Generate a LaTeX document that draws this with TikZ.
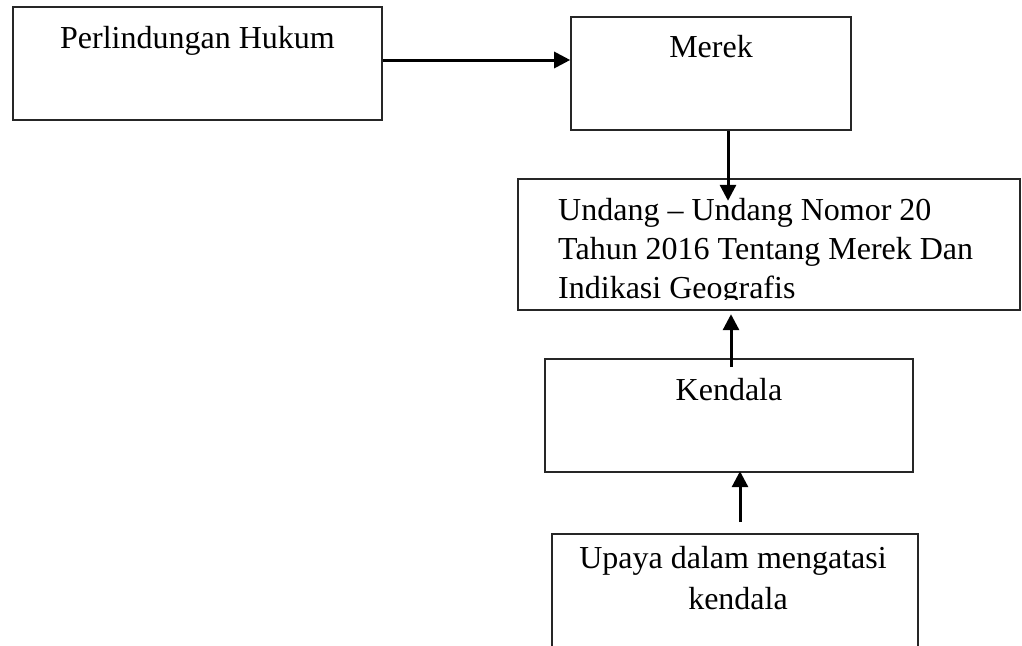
\documentclass[tikz,border=0pt]{standalone}
\usepackage{fontspec}
\setmainfont{Liberation Serif}
\usetikzlibrary{arrows.meta}

\begin{document}
\begin{tikzpicture}[x=1pt,y=-1pt,
  every node/.style={inner sep=0pt,font=\fontsize{32}{38}\selectfont},
  kotak/.style={draw=black!85,line width=1.6pt},
  panah/.style={line width=3pt,-{Triangle[length=16pt,width=16pt]}}]
  \useasboundingbox (0,0) rectangle (1022,645);
  % kotak
  \node[kotak,minimum width=369pt,minimum height=113pt] (hukum) at (197.5,63.5) {};
  \node[kotak,minimum width=280pt,minimum height=113pt] (merek) at (711,73.5) {};
  \node[kotak,minimum width=502pt,minimum height=131pt] (uu) at (769,244.5) {};
  \node[kotak,minimum width=368pt,minimum height=113pt] (kendala) at (729,415.5) {};
  \node[kotak,minimum width=366pt,minimum height=126pt] (upaya) at (735,597) {};
  % teks
  \node[anchor=base] (hukum-t) at (197.5,48) {Perlindungan Hukum};
  \node[anchor=base] (merek-t) at (711,57) {Merek};
  \begin{scope}
    \clip (518,179) rectangle (1020,299);
    \foreach[count=\i] \baris in {Undang – Undang Nomor 20,Tahun 2016 Tentang Merek Dan,Indikasi Geografis}
      \node[anchor=base west] (uu-\i) at (558,{181+39*\i}) {\baris};
  \end{scope}
  \node[anchor=base] (kendala-t) at (729,400) {Kendala};
  \node[anchor=base] (upaya-1) at (733,568) {Upaya dalam mengatasi};
  \node[anchor=base] (upaya-2) at (738,609) {kendala};
  % panah
  \draw[panah] (hukum.east |- 0,60) -- (merek.west |- 0,60);
  \draw[panah] ([xshift=17pt]merek.south) -- ++(0,70);
  \draw[panah] ([shift={(2,9)}]kendala.north) -- ++(0,-53);
  \draw[panah] ([shift={(5,-11)}]upaya.north) -- ++(0,-51);
\end{tikzpicture}
\end{document}
